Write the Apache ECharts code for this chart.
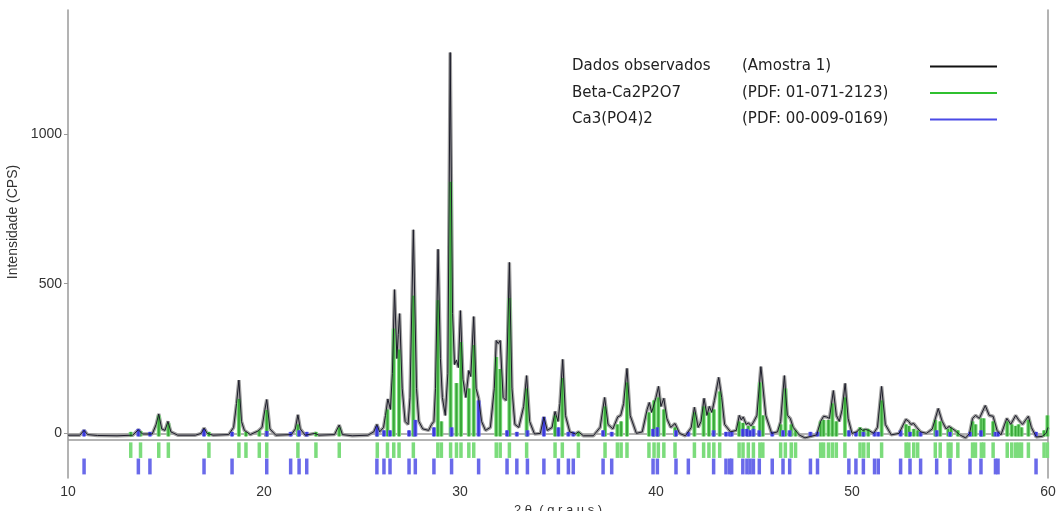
<!DOCTYPE html>
<html>
<head>
<meta charset="utf-8">
<script src="https://cdn.jsdelivr.net/npm/echarts@6/dist/echarts.min.js"></script>
<style>
  html, body { margin: 0; padding: 0; background: #fff; }
  #chart { width: 1056px; height: 511px; }
</style>
</head>
<body>
<div id="chart"></div>
<script>
const observed = [
  [10.0,-6],[10.6,-6],[10.82,10],[11.0,-4],[11.5,-7],[12.5,-8],[13.3,-6],[13.59,12],[13.8,-2],[14.3,-2],
  [14.5,30],[14.63,65],[14.78,15],[14.95,10],[15.1,40],[15.25,5],[15.6,-6],[16.5,-6],[16.8,0],[16.94,18],
  [17.1,0],[17.4,-6],[18.2,-4],[18.45,20],[18.6,100],[18.72,178],[18.85,40],[19.0,10],[19.3,-4],[19.7,8],
  [19.9,20],[20.05,80],[20.14,113],[20.3,15],[20.6,-6],[21.4,-4],[21.6,15],[21.73,62],[21.85,15],[22.1,-6],
  [22.6,0],[22.65,6],[22.8,-6],[23.6,-4],[23.84,28],[24.0,-4],[24.5,-8],[25.3,-6],[25.6,5],[25.76,30],
  [25.9,5],[26.1,20],[26.2,60],[26.32,115],[26.45,80],[26.55,200],[26.66,480],[26.78,250],[26.85,330],[26.92,400],
  [27.05,150],[27.2,40],[27.35,30],[27.45,120],[27.62,680],[27.78,150],[27.9,40],[28.1,15],[28.4,10],[28.55,30],
  [28.67,40],[28.75,150],[28.88,615],[29.0,250],[29.1,120],[29.25,60],[29.38,200],[29.5,1272],[29.62,400],[29.72,230],
  [29.82,245],[29.92,220],[30.02,410],[30.15,180],[30.3,120],[30.45,210],[30.55,190],[30.7,390],[30.82,150],[30.95,117],
  [31.1,40],[31.3,10],[31.55,20],[31.75,150],[31.85,310],[31.95,300],[32.05,310],[32.2,120],[32.35,110],[32.52,571],
  [32.65,150],[32.8,30],[33.0,20],[33.25,90],[33.4,193],[33.55,40],[33.8,-2],[34.1,0],[34.28,55],[34.45,10],
  [34.7,20],[34.85,73],[35.0,40],[35.1,100],[35.24,247],[35.38,60],[35.6,5],[35.9,-2],[36.04,5],[36.3,-8],
  [36.8,-8],[37.15,20],[37.38,120],[37.55,30],[37.8,15],[38.05,55],[38.2,60],[38.35,100],[38.52,217],[38.68,60],
  [39.0,0],[39.3,5],[39.55,80],[39.66,103],[39.78,70],[40.0,120],[40.13,157],[40.25,90],[40.4,117],[40.55,50],
  [40.75,20],[40.97,33],[41.2,0],[41.5,-8],[41.8,20],[41.96,87],[42.15,20],[42.3,40],[42.45,117],[42.6,60],
  [42.72,90],[42.85,70],[42.98,110],[43.2,187],[43.35,120],[43.5,30],[43.8,5],[44.1,10],[44.25,60],[44.35,45],
  [44.45,55],[44.6,30],[44.72,35],[44.85,25],[44.97,37],[45.15,60],[45.35,223],[45.45,217],[45.6,60],[45.9,0],
  [46.2,5],[46.36,40],[46.55,193],[46.7,60],[46.85,50],[47.0,20],[47.3,-5],[47.6,-15],[47.9,-10],[48.2,-5],
  [48.4,40],[48.55,57],[48.7,55],[48.85,50],[49.05,143],[49.2,60],[49.35,40],[49.5,80],[49.65,167],[49.8,50],
  [50.0,0],[50.25,5],[50.41,17],[50.55,10],[50.7,13],[50.85,10],[51.1,0],[51.3,20],[51.51,157],[51.7,30],
  [52.0,-5],[52.4,0],[52.75,47],[52.9,40],[53.0,30],[53.15,33],[53.3,20],[53.5,5],[53.8,0],[54.1,15],
  [54.4,83],[54.6,40],[54.8,15],[54.95,23],[55.05,23],[55.25,10],[55.5,-5],[55.8,-15],[56.0,0],[56.15,50],
  [56.3,60],[56.5,50],[56.8,93],[57.0,60],[57.2,57],[57.4,10],[57.6,-5],[57.9,50],[58.1,30],[58.35,60],
  [58.5,45],[58.7,30],[59.0,57],[59.15,20],[59.4,-12],[59.7,-10],[59.9,0],[60.0,20]
]

// Beta-Ca2P2O7 reference lines [2θ, stick height]
const betaPeaks = [
  [13.2,5],[13.7,8],[14.63,60],[15.12,35],[17.19,5],[18.72,115],[19.08,5],[19.76,10],[20.14,78],[21.73,30],
  [22.65,5],[23.84,20],[25.78,15],[26.3,80],[26.62,350],[26.89,280],[27.62,460],[28.87,445],[29.05,40],[29.52,840],
  [29.82,168],[30.05,305],[30.45,150],[30.7,295],[31.85,255],[32.05,215],[32.52,452],[33.4,150],[34.85,60],[35.22,185],
  [36.04,5],[37.4,90],[38.03,30],[38.22,40],[38.52,170],[39.64,70],[39.9,110],[40.12,120],[40.4,80],[40.97,20],
  [41.96,70],[42.43,90],[42.7,70],[42.95,80],[43.25,140],[44.24,40],[44.44,35],[44.71,25],[44.97,25],[45.3,170],
  [45.45,60],[46.36,30],[46.6,150],[46.9,30],[47.12,10],[48.4,40],[48.55,45],[48.8,45],[49.0,100],[49.2,40],
  [49.64,120],[50.41,20],[50.6,15],[50.83,15],[51.51,110],[52.76,30],[52.9,25],[53.15,15],[53.35,10],[54.25,45],
  [54.5,40],[54.91,15],[55.05,20],[55.4,10],[56.15,40],[56.3,30],[56.6,50],[56.72,50],[57.2,40],[57.92,40],
  [58.15,30],[58.35,25],[58.5,30],[58.65,20],[59.0,45],[59.8,10],[59.97,60]
]

// Ca3(PO4)2 reference lines [2θ, stick height]
const tcpPeaks = [
  [10.82,12],[13.59,15],[14.18,5],[16.94,15],[18.37,5],[20.14,8],[21.36,5],[21.79,10],[22.18,5],[25.76,25],
  [26.12,10],[26.43,10],[27.4,10],[27.72,45],[28.67,20],[29.57,20],[30.95,110],[32.4,10],[32.9,5],[33.44,10],
  [34.28,55],[35.02,20],[35.53,5],[35.78,5],[37.3,10],[37.74,5],[39.85,15],[40.07,20],[41.02,10],[41.65,5],
  [42.94,10],[43.57,5],[43.76,5],[43.86,5],[44.43,15],[44.64,15],[44.8,10],[44.97,15],[45.27,10],[45.93,5],
  [46.48,10],[46.82,10],[47.88,5],[48.24,5],[49.84,10],[50.2,5],[50.58,5],[51.15,5],[51.34,5],[52.48,10],
  [52.96,5],[53.5,5],[54.32,10],[55.0,5],[56.02,5],[56.58,10],[57.32,5],[57.45,5],[59.39,5]
]

const yLabels = [0, 500, 1000]
const legendNote = {
  'Dados observados': '(Amostra 1)',
  'Beta-Ca2P2O7': '(PDF: 01-071-2123)',
  'Ca3(PO4)2': '(PDF: 00-009-0169)'
}

const chart = echarts.init(document.getElementById('chart'))

// stick under the pattern plus a tick in the row below the separator
const sticks = (light, dark, rowTop, rowBottom) => (params, api) => {
  const x = api.value(0)
  const h = api.value(1)
  const base = api.coord([x, -10])
  const top = api.coord([x, h])
  const r1 = api.coord([x, rowTop])
  const r2 = api.coord([x, rowBottom])
  return {
    type: 'group',
    children: [
      {
        type: 'rect',
        shape: { x: base[0] - 2, y: top[1], width: 4, height: base[1] - top[1] },
        style: { fill: light }
      },
      {
        type: 'rect',
        shape: { x: base[0] - 1, y: top[1], width: 2, height: base[1] - top[1] },
        style: { fill: dark }
      },
      {
        type: 'rect',
        shape: { x: r1[0] - 1.75, y: r1[1], width: 3.5, height: r2[1] - r1[1] },
        style: { fill: light }
      }
    ]
  }
}

const legendFont = { fontFamily: 'DejaVu Sans', fontSize: 15, color: '#222' }

const option = {
  animation: false,
  backgroundColor: '#fff',
  grid: { left: 68, right: 8, top: 10, bottom: 33, outerBoundsMode: 'none' },
  legend: {
    orient: 'vertical',
    left: 567,
    top: 53,
    align: 'right',
    icon: 'rect',
    itemWidth: 67,
    itemHeight: 2,
    itemGap: 9.5,
    selectedMode: false,
    data: [
      { name: 'Dados observados', itemStyle: { color: '#111' } },
      { name: 'Beta-Ca2P2O7', itemStyle: { color: '#2fc02f' } },
      { name: 'Ca3(PO4)2', itemStyle: { color: '#4a4ae6' } }
    ],
    formatter: name => `{a|${name}}{b|${legendNote[name]}}`,
    textStyle: {
      ...legendFont,
      lineHeight: 17,
      rich: {
        a: { width: 170, align: 'left', ...legendFont },
        b: { width: 183, align: 'left', ...legendFont }
      }
    }
  },
  xAxis: {
    type: 'value',
    min: 10,
    max: 60,
    interval: 10,
    name: '2 θ  ( g r a u s )',
    nameLocation: 'middle',
    nameGap: 22,
    nameTextStyle: { fontFamily: 'Liberation Sans', fontSize: 13, color: '#333' },
    axisLine: { lineStyle: { color: '#9a9a9a', width: 1.5 } },
    axisTick: { length: 3, lineStyle: { color: '#9a9a9a' } },
    axisLabel: { fontFamily: 'Liberation Sans', fontSize: 14, color: '#333', margin: 7 },
    splitLine: { show: false }
  },
  yAxis: [
    {
      type: 'value',
      min: -149,
      max: 1414,
      name: 'Intensidade (CPS)',
      nameLocation: 'middle',
      nameGap: 30,
      nameTextStyle: { fontFamily: 'Liberation Sans', fontSize: 14, color: '#333', padding: [0, 0, 0, 44] },
      axisLine: { show: true, lineStyle: { color: '#9a9a9a', width: 1.5 } },
      axisTick: { show: true, length: 4, customValues: yLabels, lineStyle: { color: '#9a9a9a' } },
      axisLabel: {
        customValues: yLabels,
        formatter: v => String(v),
        fontFamily: 'Liberation Sans',
        fontSize: 14,
        color: '#333',
        margin: 6
      },
      splitLine: { show: false }
    },
    {
      type: 'value',
      position: 'right',
      min: -149,
      max: 1414,
      axisLine: { show: true, lineStyle: { color: '#9a9a9a', width: 1.5 } },
      axisTick: { show: false },
      axisLabel: { show: false },
      splitLine: { show: false }
    }
  ],
  series: [
    {
      name: 'perfil',
      type: 'line',
      data: observed,
      symbol: 'none',
      lineStyle: { color: '#a0a0a0', width: 3.5 },
      z: 2,
      markLine: {
        silent: true,
        symbol: 'none',
        label: { show: false },
        lineStyle: { color: '#9a9a9a', width: 1.5, type: 'solid' },
        data: [{ yAxis: -21 }]
      }
    },
    {
      name: 'Beta-Ca2P2O7',
      type: 'custom',
      data: betaPeaks,
      itemStyle: { color: '#2fc02f' },
      renderItem: sticks('#7cdc7c', '#3aa83a', -30, -82),
      z: 3
    },
    {
      name: 'Ca3(PO4)2',
      type: 'custom',
      data: tcpPeaks,
      itemStyle: { color: '#4a4ae6' },
      renderItem: sticks('#6a6aea', '#3a3ad8', -84, -137),
      z: 4
    },
    {
      name: 'Dados observados',
      type: 'line',
      data: observed,
      symbol: 'none',
      lineStyle: { color: '#1c1c2a', width: 1 },
      z: 5
    }
  ]
}

chart.setOption(option)
</script>
</body>
</html>
